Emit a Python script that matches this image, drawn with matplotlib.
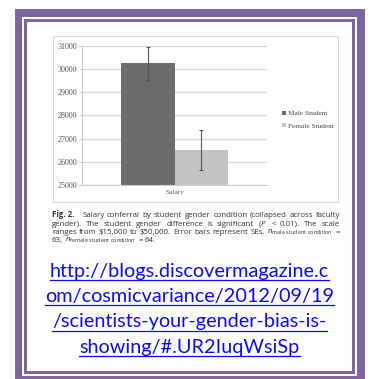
import matplotlib
matplotlib.use('Agg')
import matplotlib.pyplot as plt
from matplotlib.patches import Rectangle
from matplotlib.lines import Line2D

# ---------------- data ----------------
categories = ['Salary']
series_names = ['Male Student', 'Female Student']
salary_means = [30238, 26508]
salary_se = [710, 845]
yticks = [25000, 26000, 27000, 28000, 29000, 30000, 31000]
bar_colors = ['#6b6b6b', '#c3c3c3']

caption_lines = [
    ["Fig. 2.", "Salary", "conferral", "by", "student", "gender", "condition", "(collapsed", "across", "faculty"],
    ["gender).", "The", "student", "gender", "difference", "is", "significant", r"($P$", "<", "0.01).", "The", "scale"],
    ["ranges", "from", "$15,000", "to", "$50,000.", "Error", "bars", "represent", "SEs.",
     r"$n_{\mathrm{male\ student\ condition}}$", "="],
    ["63,", r"$n_{\mathrm{female\ student\ condition}}$", "=", "64."],
]
url_lines = ["http://blogs.discovermagazine.c",
             "om/cosmicvariance/2012/09/19",
             "/scientists-your-gender-bias-is-",
             "showing/#.UR2IuqWsiSp"]

# ---------------- figure ----------------
plt.rcParams['mathtext.fontset'] = 'custom'
plt.rcParams['mathtext.rm'] = 'Open Sans'
plt.rcParams['mathtext.it'] = 'Open Sans:italic'

W, H = 370, 379
fig = plt.figure(figsize=(W / 100, H / 100), dpi=100)
fig.patch.set_facecolor('white')

def fx(px):
    return px / W

def fy(py):
    return 1 - py / H

def frect(x0, y0, x1, y1, **kw):
    r = Rectangle((fx(x0), fy(y1)), fx(x1) - fx(x0), fy(y0) - fy(y1),
                  transform=fig.transFigure, zorder=-10, **kw)
    fig.patches.append(r)

purple = '#8064a2'
frect(15, 9, 365, 381, fc=purple, ec='none')
frect(22, 16.5, 357, 376, fc='white', ec='none')
frect(24, 19, 354.5, 374, fc=purple, ec='none')
frect(26.5, 22, 352, 371, fc='white', ec='none')
# chart image box
frect(53, 36, 338, 202, fc='white', ec='#dadada', lw=0.8)

# ---------------- axes ----------------
ax = fig.add_axes([fx(82), fy(185), fx(267) - fx(82), fy(45.7) - fy(185)])
ax.set_zorder(5)
ax.patch.set_alpha(0)
bw = 0.578
xs = [-bw / 2, bw / 2]
for i, name in enumerate(series_names):
    ax.bar(xs[i], salary_means[i] - 25000, bottom=25000, width=bw,
           color=bar_colors[i], label=name, zorder=2)
ax.errorbar(xs, salary_means, yerr=salary_se, fmt='none', ecolor='#555555',
            elinewidth=0.8, capsize=1.3, capthick=0.8, zorder=3)
ax.set_xlim(-1, 1)
ax.set_ylim(25000, 31000)
ax.set_yticks(yticks)
ax.set_yticklabels([str(v) for v in yticks], fontsize=5.8,
                   family='Liberation Serif', color='#555555')
ax.set_xticks([0.0])
ax.set_xticklabels(categories, fontsize=5.2, family='Liberation Serif', color='#555555')
ax.tick_params(axis='y', length=2.3, width=0.8, color='#cccccc', pad=1.2)
ax.tick_params(axis='x', length=0, pad=3.6)
ax.yaxis.grid(True, color='#d6d6d6', lw=0.9)
ax.set_axisbelow(True)
for s in ['top', 'right']:
    ax.spines[s].set_visible(False)
for s in ['left', 'bottom']:
    ax.spines[s].set_color('#cccccc')
    ax.spines[s].set_linewidth(0.8)

leg = ax.legend(loc='upper left', bbox_to_anchor=(fx(278.5), fy(107)),
                bbox_transform=fig.transFigure, frameon=False, borderpad=0,
                handlelength=0.5, handleheight=0.5, handletextpad=0.3,
                labelspacing=0.95, prop={'family': 'Liberation Serif', 'size': 5.2})
for t in leg.get_texts():
    t.set_color('#444444')

# ---------------- caption (justified) ----------------
renderer = fig.canvas.get_renderer()
cap_left, cap_right = 52, 340
cap_baselines = [217.3, 225.6, 234.0, 242.3]

# choose a font size so that line 1 with ordinary spacing nearly fills the width
probe = fig.text(0, 0, "Fig. 2.    Salary conferral by student gender condition (collapsed across faculty",
                 family='Open Sans', fontsize=10)
pw = probe.get_window_extent(renderer).width
probe.remove()
cap_size = 10 * 284 / pw

cap_kw = dict(family='Open Sans', fontsize=cap_size, color='#333333', va='baseline', ha='left')
for li, words in enumerate(caption_lines):
    texts = []
    for wi, w in enumerate(words):
        kw = dict(cap_kw)
        if li == 0 and wi == 0:
            kw['weight'] = 'bold'
        t = fig.text(0, fy(cap_baselines[li]), w, **kw)
        texts.append(t)
    widths = [t.get_window_extent(renderer).width for t in texts]
    extra = [0.0] * len(words)
    if li == 0:
        extra[0] = 5.0
    if li < len(caption_lines) - 1:
        gap = (cap_right - cap_left - sum(widths) - sum(extra)) / (len(words) - 1)
    else:
        gap = cap_size * 100 / 72 * 0.27
    x = cap_left
    for t, wdt, ex in zip(texts, widths, extra):
        t.set_x(fx(x))
        x += wdt + gap + ex

# ---------------- URL ----------------
url_baselines = [277, 302, 327.5, 353]
url_color = '#0a0aff'
probe = fig.text(0, 0, url_lines[0], family='Lato', fontsize=12)
pw = probe.get_window_extent(renderer).width
probe.remove()
url_size = 12 * 279 / pw
for line, yb in zip(url_lines, url_baselines):
    t = fig.text(fx(189.5), fy(yb), line, family='Lato', fontsize=url_size,
                 color=url_color, ha='center', va='baseline')
    bb = t.get_window_extent(renderer)
    uy = fy(yb + 3.2)
    fig.lines.append(Line2D([bb.x0 / W, bb.x1 / W], [uy, uy], transform=fig.transFigure,
                            color=url_color, lw=0.9))

fig.savefig('out.png', dpi=100)
